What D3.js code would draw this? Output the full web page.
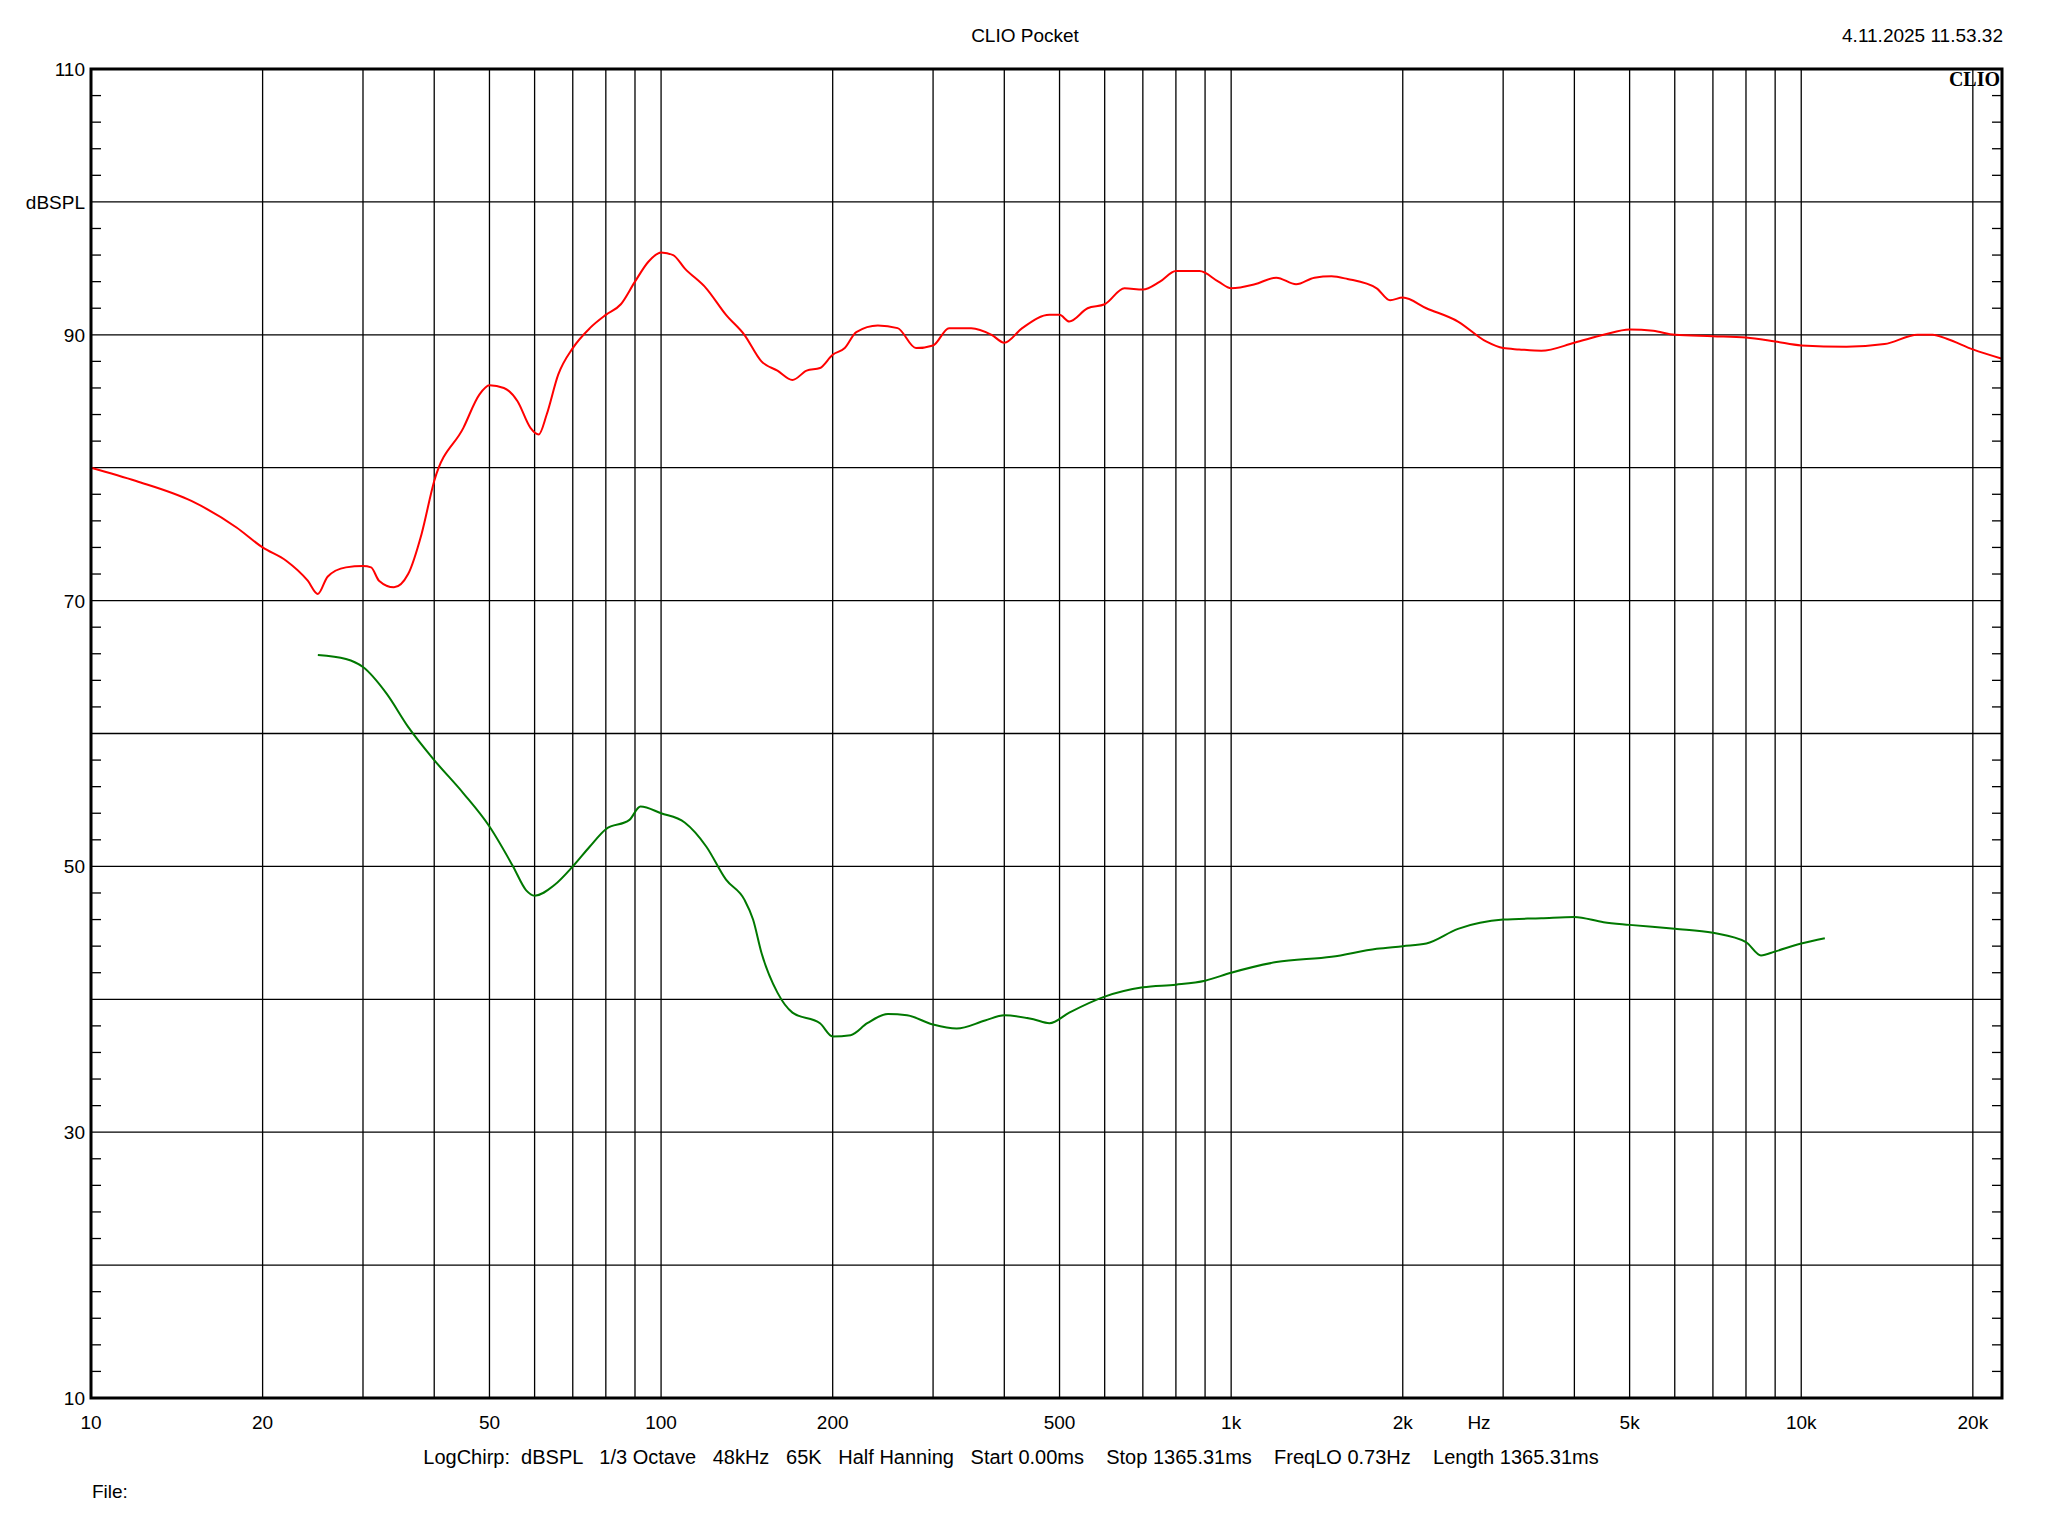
<!DOCTYPE html>
<html>
<head>
<meta charset="utf-8">
<style>
  body { margin: 0; background: #fff; }
  text { font-family: "Liberation Sans", Arial, sans-serif; fill: #000; }
</style>
</head>
<body>
<script src="https://cdn.jsdelivr.net/npm/d3@7"></script>
<script>
var redFreq = [10,12,15,18,20,22,24,25,26,28,30,31,32,34,36,38,40,45,48,50,53,56,59,61,63,66,70,75,80,85,90,95,100,105,110,120,130,140,150,160,170,180,190,200,210,220,240,260,280,300,320,350,380,400,430,480,500,520,560,600,650,700,750,800,880,950,1000,1100,1200,1300,1400,1500,1600,1800,1900,2000,2200,2500,2800,3000,3200,3500,4000,4500,5000,5500,6000,7000,8000,9000,10000,12000,14000,16000,17000,18000,20000,22500];
var redDb = [80,79,77.5,75.5,74,73,71.5,70.5,71.8,72.5,72.6,72.5,71.5,71,72,75,79,83,85.5,86.2,86,85,83,82.5,84,87,89,90.5,91.5,92.3,94,95.5,96.2,96,95,93.5,91.5,90,88,87.3,86.6,87.3,87.5,88.5,89,90.2,90.7,90.5,89,89.2,90.5,90.5,90,89.4,90.5,91.5,91.5,91,92,92.3,93.5,93.4,94,94.8,94.8,94,93.5,93.8,94.3,93.8,94.3,94.4,94.2,93.5,92.6,92.8,92,91,89.5,89,88.9,88.8,89.4,90,90.4,90.3,90,89.9,89.8,89.5,89.2,89.1,89.3,90,90,89.7,88.9,88.2];
var greenFreq = [25,28,30,33,36,40,45,50,55,58,60,65,70,75,80,88,92,100,110,120,130,140,145,150,160,170,190,200,215,230,250,270,300,330,370,400,450,480,520,600,700,800,900,1000,1200,1500,1800,2000,2200,2500,3000,3500,4000,4500,5000,6000,7000,8000,8500,9000,10000,11000];
var greenDb = [65.9,65.6,65,63,60.5,58,55.5,53,50,48.2,47.8,48.6,50,51.5,52.8,53.5,54.5,54,53.3,51.5,49,47.5,46,43.5,40.5,39,38.2,37.2,37.3,38.2,38.9,38.8,38.1,37.8,38.4,38.8,38.5,38.2,39,40.2,40.9,41.1,41.4,42,42.8,43.2,43.8,44,44.2,45.3,46,46.1,46.2,45.8,45.6,45.3,45,44.3,43.3,43.6,44.2,44.6];
var xLabelVals = [10,20,50,100,200,500,1000,2000,5000,10000,20000];
var xLabelText = ["10","20","50","100","200","500","1k","2k","5k","10k","20k"];
var yLabelVals = [110,90,70,50,30,10];

var W = 2048, H = 1536,
    L = 91, R = 2002, T = 69, B = 1398;

var svg = d3.select("body").append("svg").attr("width", W).attr("height", H);
var x = d3.scaleLog().domain([10, 22500]).range([L, R]);
var y = d3.scaleLinear().domain([10, 110]).range([B, T]);

// vertical grid
var vgrid = [];
[10,100,1000,10000].forEach(function(d) {
  for (var k = 1; k < 10; k++) if (d * k > 10 && d * k < 22500) vgrid.push(d * k);
});
svg.append("g").selectAll("line").data(vgrid).join("line")
  .attr("x1", d => x(d)).attr("x2", d => x(d)).attr("y1", T).attr("y2", B)
  .attr("stroke", "#000").attr("stroke-width", 1.3);

svg.append("g").selectAll("line").data(d3.range(20, 110, 10)).join("line")
  .attr("x1", L).attr("x2", R).attr("y1", d => y(d)).attr("y2", d => y(d))
  .attr("stroke", "#000").attr("stroke-width", 1.3);

// minor ticks both sides
var minor = d3.range(12, 110, 2).filter(d => d % 10 !== 0);
svg.append("g").selectAll("line").data(minor).join("line")
  .attr("x1", L).attr("x2", L + 10).attr("y1", d => y(d)).attr("y2", d => y(d))
  .attr("stroke", "#000").attr("stroke-width", 1.3);
svg.append("g").selectAll("line").data(minor).join("line")
  .attr("x1", R - 10).attr("x2", R).attr("y1", d => y(d)).attr("y2", d => y(d))
  .attr("stroke", "#000").attr("stroke-width", 1.3);

// curves
var line = d3.line().curve(d3.curveMonotoneX);
svg.append("path")
  .attr("d", line(redFreq.map((f, i) => [x(f), y(redDb[i])])))
  .attr("fill", "none").attr("stroke", "#ff0000").attr("stroke-width", 2);
svg.append("path")
  .attr("d", line(greenFreq.map((f, i) => [x(f), y(greenDb[i])])))
  .attr("fill", "none").attr("stroke", "#007800").attr("stroke-width", 2);

// frame
svg.append("rect").attr("x", L).attr("y", T).attr("width", R - L).attr("height", B - T)
  .attr("fill", "none").attr("stroke", "#000").attr("stroke-width", 3);

// labels
var fs = 19;
svg.append("g").selectAll("text").data(yLabelVals).join("text")
  .attr("x", L - 6).attr("y", d => y(d) + 7).attr("text-anchor", "end")
  .attr("font-size", fs).text(d => d);
svg.append("text").attr("x", L - 6).attr("y", y(100) + 7).attr("text-anchor", "end")
  .attr("font-size", fs).text("dBSPL");

svg.append("g").selectAll("text").data(xLabelVals).join("text")
  .attr("x", d => x(d)).attr("y", 1429).attr("text-anchor", "middle")
  .attr("font-size", fs).text((d, i) => xLabelText[i]);
svg.append("text").attr("x", 1479).attr("y", 1429).attr("text-anchor", "middle")
  .attr("font-size", fs).text("Hz");

svg.append("text").attr("x", 1025).attr("y", 42).attr("text-anchor", "middle")
  .attr("font-size", fs).text("CLIO Pocket");
svg.append("text").attr("x", 2003).attr("y", 42).attr("text-anchor", "end")
  .attr("font-size", fs).text("4.11.2025 11.53.32");
svg.append("text").attr("x", 2000).attr("y", 86).attr("text-anchor", "end")
  .attr("font-size", 20).attr("font-weight", "bold")
  .style("font-family", "'Liberation Serif', serif").text("CLIO");

svg.append("text").attr("x", 1011).attr("y", 1464).attr("text-anchor", "middle")
  .attr("font-size", 20).attr("xml:space", "preserve")
  .text("LogChirp:  dBSPL   1/3 Octave   48kHz   65K   Half Hanning   Start 0.00ms    Stop 1365.31ms    FreqLO 0.73Hz    Length 1365.31ms");
svg.append("text").attr("x", 92).attr("y", 1498).attr("font-size", fs).text("File:");
</script>
</body>
</html>
